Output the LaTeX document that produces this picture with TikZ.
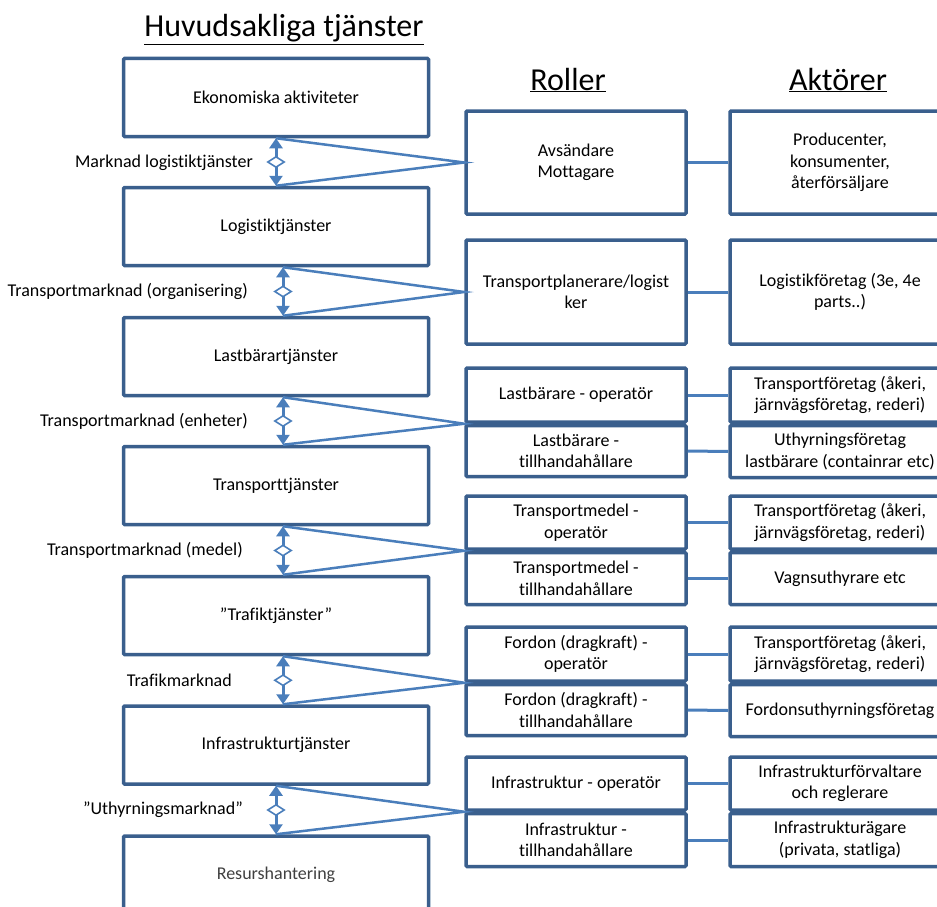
\documentclass[tikz,border=0pt]{standalone}
\usepackage{fontspec}
\setmainfont[Ligatures={NoCommon}]{Carlito}
\usetikzlibrary{shapes.geometric,arrows.meta,calc}
\definecolor{boxc}{HTML}{3A5F8D}
\definecolor{linec}{HTML}{4A7EBB}
\definecolor{greytext}{HTML}{404040}
\begin{document}
\begin{tikzpicture}[x=1pt,y=-1pt,
  box/.style={draw=boxc, line width=3.5pt, rounded corners=1pt, inner sep=2pt, align=center, fill=white,
    font=\fontsize{18}{21.5}\selectfont},
  lbox/.style={box, minimum width=305pt, minimum height=78pt},
  rbox/.style={box, minimum width=220pt},
  abox/.style={box, minimum width=220pt},
  head/.style={font=\fontsize{32}{36}\selectfont, inner sep=0pt, anchor=base},
  lbl/.style={font=\fontsize{18}{21.5}\selectfont, inner sep=0pt, anchor=east},
  dbl/.style={draw=linec, line width=3pt, {Triangle[width=13pt,length=10pt]}-{Triangle[width=13pt,length=10pt]}},
  dmd/.style={diamond, draw=linec, fill=white, line width=1.6pt, minimum width=17pt, minimum height=11pt, inner sep=0pt, aspect=1.6},
  tri/.style={draw=linec, line width=2.5pt, line join=miter},
  hc/.style={draw=linec, line width=3pt}
]
\useasboundingbox (0,0) rectangle (937,907);
\clip (0,0) rectangle (937,907);

% headers
\node[head] (h1) at (284,37) {\underline{Huvudsakliga tjänster}};
\node[head] (h2) at (568,90) {\underline{Roller}};
\node[head] (h3) at (838,90) {\underline{Aktörer}};

% left column
\node[lbox] (L1) at (276,97.5) {Ekonomiska aktiviteter};
\node[lbox] (L2) at (276,226.5) {Logistiktjänster};
\node[lbox] (L3) at (276,356.5) {Lastbärartjänster};
\node[lbox] (L4) at (276,485.5) {Transporttjänster};
\node[lbox] (L5) at (276,615.5) {”Trafiktjänster”};
\node[lbox] (L6) at (276,745) {Infrastrukturtjänster};
\node[lbox, text=greytext] (L7) at (276,875) {Resurshantering};

% roles
\node[rbox, minimum height=103pt] (R1) at (576,162.5) {Avsändare\\Mottagare};
\node[rbox, minimum height=104pt] (R2) at (576,292) {Transportplanerare/logist\\ker};
\node[rbox, minimum height=54pt] (R3a) at (576,395) {Lastbärare - operatör};
\node[rbox, minimum height=51pt, anchor=north] (R3b) at (R3a.south) {Lastbärare -\\tillhandahållare};
\node[rbox, minimum height=53pt] (R4a) at (576,522.5) {Transportmedel -\\operatör};
\node[rbox, minimum height=52pt, anchor=north] (R4b) at (R4a.south) {Transportmedel -\\tillhandahållare};
\node[rbox, minimum height=54pt] (R5a) at (576,654) {Fordon (dragkraft) -\\operatör};
\node[rbox, minimum height=51pt, anchor=north] (R5b) at (R5a.south) {Fordon (dragkraft) -\\tillhandahållare};
\node[rbox, minimum height=53pt] (R6a) at (576,783.5) {Infrastruktur - operatör};
\node[rbox, minimum height=53pt, anchor=north] (R6b) at (R6a.south) {Infrastruktur -\\tillhandahållare};

% actors
\node[abox, minimum height=103pt] (A1) at (840,162.5) {Producenter,\\konsumenter,\\återförsäljare};
\node[abox, minimum height=104pt] (A2) at (840,292) {Logistikföretag (3e, 4e\\parts..)};
\node[abox, minimum height=54pt] (A3a) at (840,395) {Transportföretag (åkeri,\\järnvägsföretag, rederi)};
\node[abox, minimum height=52pt, anchor=north] (A3b) at (A3a.south) {Uthyrningsföretag\\lastbärare (containrar etc)};
\node[abox, minimum height=53pt] (A4a) at (840,522.5) {Transportföretag (åkeri,\\järnvägsföretag, rederi)};
\node[abox, minimum height=52pt, anchor=north] (A4b) at (A4a.south) {Vagnsuthyrare etc};
\node[abox, minimum height=54pt] (A5a) at (840,654) {Transportföretag (åkeri,\\järnvägsföretag, rederi)};
\node[abox, minimum height=52pt, anchor=north] (A5b) at (A5a.south) {Fordonsuthyrningsföretag};
\node[abox, minimum height=53pt] (A6a) at (840,783.5) {Infrastrukturförvaltare\\och reglerare};
\node[abox, minimum height=53pt, anchor=north] (A6b) at (A6a.south) {Infrastrukturägare\\(privata, statliga)};

% role - actor connectors
\draw[hc] (R1.east) -- (A1.west);
\draw[hc] (R2.east) -- (A2.west);
\draw[hc] (R3a.east) -- (A3a.west);
\draw[hc] (R3b.east) -- (A3b.west);
\draw[hc] (R4a.east) -- (A4a.west);
\draw[hc] (R4b.east) -- (A4b.west);
\draw[hc] (R5a.east) -- (A5a.west);
\draw[hc] (R5b.east) -- (A5b.west);
\draw[hc] (R6a.east) -- (A6a.west);
\draw[hc] (R6b.east) -- (A6b.west);

% arrow x positions
\coordinate (ax1) at (276,0);
\coordinate (ax2) at (283,0);
\coordinate (ax6) at (276,0);

% triangles to roles
\draw[tri] (L1.south -| ax1) -- (R1.west) -- (L2.north -| ax1);
\draw[tri] (L2.south -| ax2) -- (R2.west) -- (L3.north -| ax2);
\draw[tri] (L3.south -| ax2) -- (R3a.south west) -- (L4.north -| ax2);
\draw[tri] (L4.south -| ax2) -- (R4a.south west) -- (L5.north -| ax2);
\draw[tri] (L5.south -| ax2) -- (R5a.south west) -- (L6.north -| ax2);
\draw[tri] (L6.south -| ax6) -- (R6a.south west) -- (L7.north -| ax6);

% double arrows with diamonds
\draw[dbl] (L1.south -| ax1) -- (L2.north -| ax1) node[midway, dmd] (d1) {};
\draw[dbl] (L2.south -| ax2) -- (L3.north -| ax2) node[midway, dmd] (d2) {};
\draw[dbl] (L3.south -| ax2) -- (L4.north -| ax2) node[midway, dmd] (d3) {};
\draw[dbl] (L4.south -| ax2) -- (L5.north -| ax2) node[midway, dmd] (d4) {};
\draw[dbl] (L5.south -| ax2) -- (L6.north -| ax2) node[midway, dmd] (d5) {};
\draw[dbl] (L6.south -| ax6) -- (L7.north -| ax6) node[midway, dmd] (d6) {};

% market labels
\node[lbl] (m1) at (253,162.5) {Marknad logistiktjänster};
\node[lbl] (m2) at (248,291) {Transportmarknad (organisering)};
\node[lbl] (m3) at (248,421.5) {Transportmarknad (enheter)};
\node[lbl] (m4) at (243,550.5) {Transportmarknad (medel)};
\node[lbl] (m5) at (232,680.5) {Trafikmarknad};
\node[lbl] (m6) at (243,809.5) {”Uthyrningsmarknad”};
\end{tikzpicture}
\end{document}
